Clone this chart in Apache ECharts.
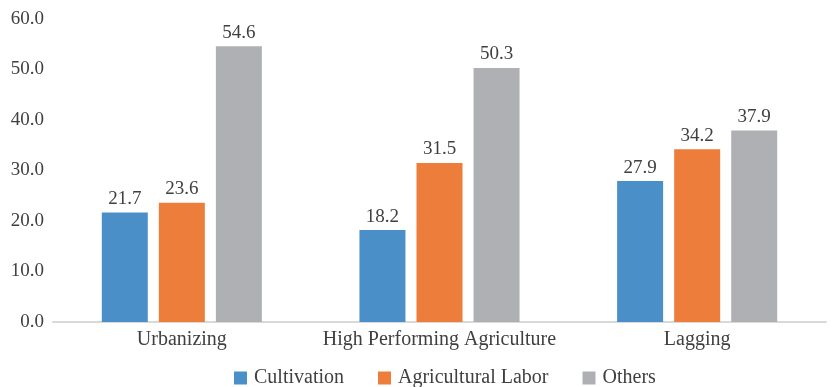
<!DOCTYPE html>
<html><head><meta charset="utf-8">
<script src="https://cdn.jsdelivr.net/npm/echarts@6/dist/echarts.min.js"></script>
<style>html,body{margin:0;padding:0;background:#fff}#c{width:833px;height:387px}</style>
</head><body><div id="c"></div>
<script>
const categories = ['Urbanizing', 'High Performing Agriculture', 'Lagging'];
const cultivation = [21.7, 18.2, 27.9];
const agriculturalLabor = [23.6, 31.5, 34.2];
const others = [54.6, 50.3, 37.9];
const seriesNames = ['Cultivation', 'Agricultural Labor', 'Others'];
const colors = ['#4a8fc8', '#ed7d3a', '#afb0b3'];
const font = '"Liberation Serif", "DejaVu Serif", serif';
const txt = '#404040';
const chart = echarts.init(document.getElementById('c'));
const lbl = {show: true, position: 'top', distance: 4, color: txt, fontFamily: font, fontSize: 19, formatter: p => p.value.toFixed(1)};
chart.setOption({
  animation: false,
  color: colors,
  grid: {left: 53, right: 7, top: 19, bottom: 65, containLabel: false},
  legend: {left: 229, bottom: -6, itemWidth: 13, itemHeight: 13, itemGap: 34, icon: 'rect',
    textStyle: {color: txt, fontFamily: font, fontSize: 20, padding: [0, 0, 0, 2]}, data: seriesNames},
  xAxis: {type: 'category', data: categories,
    axisLine: {lineStyle: {color: '#d9d9d9', width: 2}}, axisTick: {show: false},
    axisLabel: {color: txt, fontFamily: font, fontSize: 20, margin: 8, interval: 0}},
  yAxis: {type: 'value', min: 0, max: 60, interval: 10,
    axisLine: {show: false}, axisTick: {show: false}, splitLine: {show: false},
    axisLabel: {color: txt, fontFamily: font, fontSize: 19, margin: 9, formatter: v => v.toFixed(1)}},
  series: [
    {name: seriesNames[0], type: 'bar', data: cultivation, barWidth: 46, barGap: '24%', label: lbl},
    {name: seriesNames[1], type: 'bar', data: agriculturalLabor, barWidth: 46, label: lbl},
    {name: seriesNames[2], type: 'bar', data: others, barWidth: 46, label: lbl}
  ]
});
</script></body></html>
